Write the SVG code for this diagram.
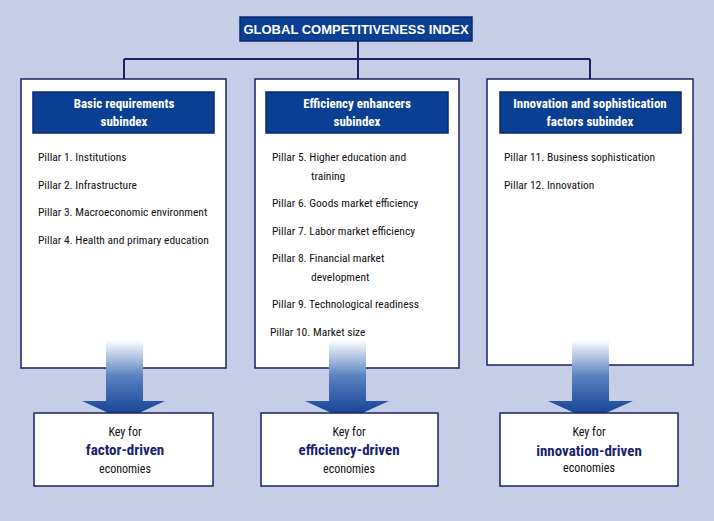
<svg xmlns="http://www.w3.org/2000/svg" width="714" height="521" viewBox="0 0 714 521">
<defs>
<linearGradient id="ag" x1="0" y1="0" x2="0" y2="1">
<stop offset="0" stop-color="#ffffff"/>
<stop offset="0.45" stop-color="#5a82c0"/>
<stop offset="1" stop-color="#0a3a8e"/>
</linearGradient>
<style>
text{font-family:"Liberation Sans Narrow","Roboto Condensed","Liberation Sans",sans-serif;}
.box{fill:#fff;stroke:#1c2160;stroke-width:1.5;}
.hdr{fill:#0b3f93;stroke:#0a2a6e;stroke-width:1.5;}
.ht{fill:#fff;font-size:13px;font-weight:bold;text-anchor:middle;}
.p{fill:#111;font-size:11.5px;}
.k{fill:#111;font-size:12px;text-anchor:middle;}
.kb{fill:#1a1f6e;font-size:15px;font-weight:bold;text-anchor:middle;}
.ln{stroke:#1c2160;stroke-width:2;fill:none;}
.arr{fill:url(#ag);}
</style>
</defs>
<rect width="714" height="521" fill="#c6cde6"/>
<g id="connectors">
<path class="ln" d="M358 41V59M124 59H590M124 59V79M358 59V79M590 59V79"/>
</g>
<g id="title">
<rect x="240" y="17" width="232" height="24" fill="#0b3f93" stroke="#0a2a6e" stroke-width="1.5"/>
<text x="356" y="34" fill="#fff" font-size="13" font-weight="bold" text-anchor="middle" style="font-family:'Liberation Sans',sans-serif">GLOBAL COMPETITIVENESS INDEX</text>
</g>
<g id="basic">
<rect class="box" x="21" y="79" width="205" height="289"/>
<rect class="hdr" x="33" y="92" width="181" height="41"/>
<text class="ht" x="124" y="108">Basic requirements</text>
<text class="ht" x="124" y="126">subindex</text>
<text class="p" x="38" y="161">Pillar 1. Institutions</text>
<text class="p" x="38" y="189">Pillar 2. Infrastructure</text>
<text class="p" x="38" y="216">Pillar 3. Macroeconomic environment</text>
<text class="p" x="38" y="244">Pillar 4. Health and primary education</text>
</g>
<g id="efficiency">
<rect class="box" x="255" y="79" width="204" height="289"/>
<rect class="hdr" x="266" y="92" width="182" height="41"/>
<text class="ht" x="357" y="108">Efficiency enhancers</text>
<text class="ht" x="357" y="126">subindex</text>
<text class="p" x="272" y="161">Pillar 5. Higher education and</text>
<text class="p" x="311" y="180">training</text>
<text class="p" x="272" y="207">Pillar 6. Goods market efficiency</text>
<text class="p" x="272" y="235">Pillar 7. Labor market efficiency</text>
<text class="p" x="272" y="262">Pillar 8. Financial market</text>
<text class="p" x="311" y="281">development</text>
<text class="p" x="272" y="308">Pillar 9. Technological readiness</text>
<text class="p" x="270" y="336">Pillar 10. Market size</text>
</g>
<g id="innovation">
<rect class="box" x="487" y="79" width="206" height="286"/>
<rect class="hdr" x="500" y="92" width="181" height="41"/>
<text class="ht" x="590" y="108">Innovation and sophistication</text>
<text class="ht" x="590" y="126">factors subindex</text>
<text class="p" x="504" y="161">Pillar 11. Business sophistication</text>
<text class="p" x="504" y="189">Pillar 12. Innovation</text>
</g>
<g id="arrows">
<path class="arr" d="M106 340H143V401H165L124 420L82 401H106Z"/>
<path class="arr" d="M329 340H366V401H389L347 420L305 401H329Z"/>
<path class="arr" d="M572 340H609V401H633L590 420L548 401H572Z"/>
</g>
<g id="factor">
<rect class="box" x="34" y="413" width="179" height="73"/>
<text class="k" x="125" y="436">Key for</text>
<text class="kb" x="125" y="455">factor-driven</text>
<text class="k" x="125" y="473">economies</text>
</g>
<g id="efficiencydriven">
<rect class="box" x="261" y="413" width="177" height="73"/>
<text class="k" x="349" y="436">Key for</text>
<text class="kb" x="349" y="455">efficiency-driven</text>
<text class="k" x="349" y="473">economies</text>
</g>
<g id="innovationdriven">
<rect class="box" x="500" y="413" width="178" height="73"/>
<text class="k" x="589" y="436">Key for</text>
<text class="kb" x="589" y="456">innovation-driven</text>
<text class="k" x="589" y="472">economies</text>
</g>
</svg>
